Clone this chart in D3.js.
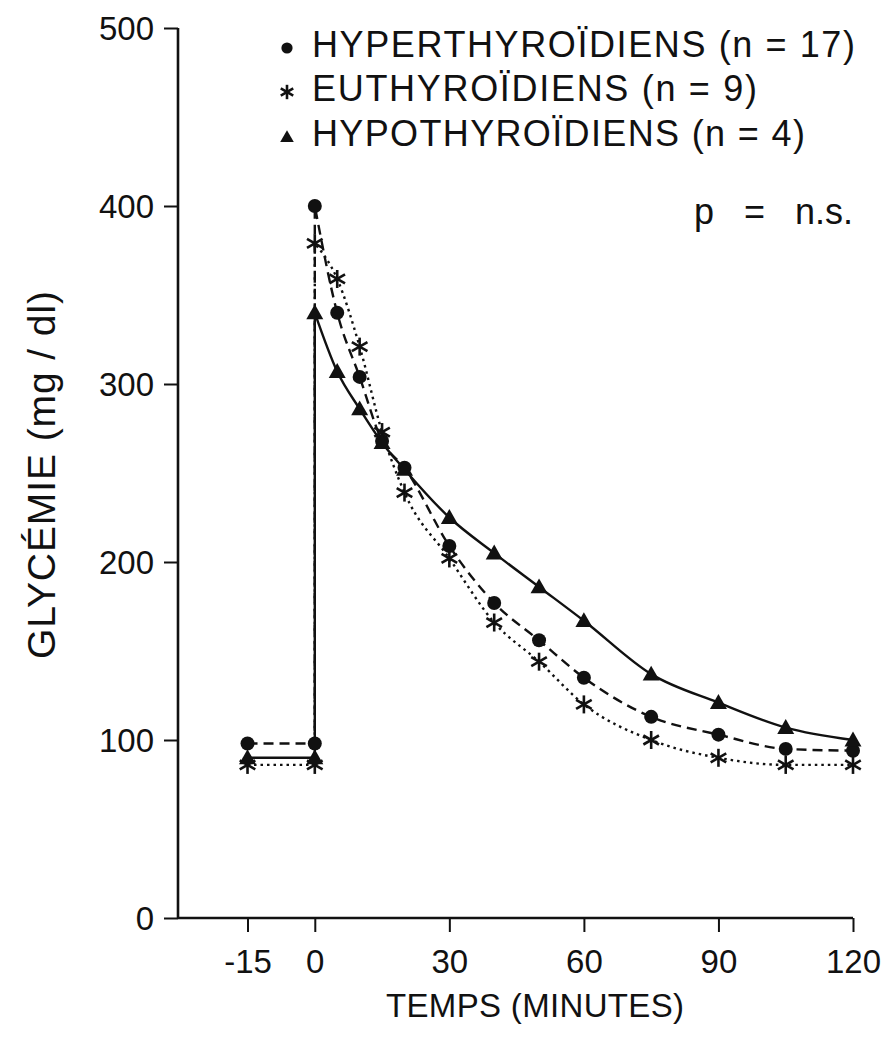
<!DOCTYPE html>
<html>
<head>
<meta charset="utf-8">
<script src="https://cdn.jsdelivr.net/npm/d3@7/dist/d3.min.js"></script>
<style>
  html, body { margin: 0; padding: 0; background: #fff; }
  svg { display: block; }
  text { font-family: "Liberation Sans", Arial, Helvetica, sans-serif; fill: #111; }
</style>
</head>
<body>
<svg id="chart" width="888" height="1053"></svg>
<script>
// ---- data ----
const times = [-15, 0, 0, 5, 10, 15, 20, 30, 40, 50, 60, 75, 90, 105, 120];
const hyperValues = [98, 98, 400, 340, 304, 268, 253, 209, 177, 156, 135, 113, 103, 95, 94];
const euValues    = [86, 86, 379, 359, 321, 273, 239, 202, 166, 144, 120, 100, 90, 86, 86];
const hypoValues  = [90, 90, 340, 307, 286, 267, 252, 225, 205, 186, 167, 137, 121, 107, 100];
const seriesNames = ["HYPERTHYROÏDIENS (n = 17)", "EUTHYROÏDIENS (n = 9)", "HYPOTHYROÏDIENS (n = 4)"];
const xTicks = [-15, 0, 30, 60, 90, 120];
const yTicks = [0, 100, 200, 300, 400, 500];
const xTitle = "TEMPS (MINUTES)";
const yTitle = "GLYCÉMIE (mg / dl)";
const pNote = "p = n.s.";

const svg = d3.select("#chart");
const x = d3.scaleLinear().domain([-30.5, 120]).range([178, 853]);
const y = d3.scaleLinear().domain([0, 500]).range([918, 28]);

const ink = "#111";

// axes
const yAxis = d3.axisLeft(y).tickValues(yTicks).tickSize(14).tickPadding(10).tickFormat(d => String(d));
const xAxis = d3.axisBottom(x).tickValues(xTicks).tickSize(14).tickPadding(18).tickFormat(d => String(d));

const gy = svg.append("g").attr("transform", `translate(${x.range()[0]},0)`).call(yAxis);
const gx = svg.append("g").attr("transform", `translate(0,${y(0)})`).call(xAxis);
[gx, gy].forEach(g => {
  g.select(".domain").attr("stroke", ink).attr("stroke-width", 2.6);
  g.selectAll(".tick line").attr("stroke", ink).attr("stroke-width", 2);
  g.selectAll(".tick text").attr("font-size", 33).attr("fill", ink)
    .attr("font-family", '"Liberation Sans", Arial, sans-serif');
});
gy.selectAll(".tick text").attr("dy", "0.36em");
// plain axis lines (no outer ticks)
gy.select(".domain").attr("d", `M0,${y(500)}V${y(0)}`);
gx.select(".domain").attr("d", `M${x.range()[0]},0H${x.range()[1]}`);

// axis titles
svg.append("text").attr("x", 535).attr("y", 1017).attr("text-anchor", "middle")
  .attr("font-size", 33).attr("textLength", 298).attr("lengthAdjust", "spacing").text(xTitle);
svg.append("text").attr("transform", `translate(55,475) rotate(-90)`).attr("text-anchor", "middle")
  .attr("font-size", 39).attr("textLength", 368).attr("lengthAdjust", "spacing").text(yTitle);

// lines: linear baseline + vertical jump, then smooth decay
function pathFor(vals) {
  const pts = times.map((t, i) => [x(t), y(vals[i])]);
  const lin = d3.line()(pts.slice(0, 3));
  const cur = d3.line().curve(d3.curveMonotoneX)(pts.slice(2));
  return lin + cur.replace(/^M[^LC]*/, "");
}

const series = [
  { vals: hyperValues, dash: "10,6", marker: "circle" },
  { vals: euValues, dash: "2.5,4", marker: "star" },
  { vals: hypoValues, dash: null, marker: "triangle" }
];

series.forEach(s => {
  svg.append("path").attr("d", pathFor(s.vals)).attr("fill", "none")
    .attr("stroke", ink).attr("stroke-width", 2.4)
    .attr("stroke-dasharray", s.dash);
});

function drawMarker(g, type, cx, cy, scale = 1) {
  if (type === "circle") {
    g.append("circle").attr("cx", cx).attr("cy", cy).attr("r", 7 * scale).attr("fill", ink);
  } else if (type === "triangle") {
    const s = 8.5 * scale;
    g.append("path").attr("d", `M${cx},${cy - s}L${cx + s},${cy + s * 0.75}L${cx - s},${cy + s * 0.75}Z`).attr("fill", ink);
  } else {
    const r = 9 * scale;
    const gg = g.append("g").attr("stroke", ink).attr("stroke-width", 2.6);
    [90, 30, -30].forEach(a => {
      const rad = a * Math.PI / 180;
      gg.append("line").attr("x1", cx - r * Math.cos(rad)).attr("y1", cy - r * Math.sin(rad))
        .attr("x2", cx + r * Math.cos(rad)).attr("y2", cy + r * Math.sin(rad));
    });
  }
}

const mg = svg.append("g");
series.forEach(s => {
  times.forEach((t, i) => drawMarker(mg, s.marker, x(t), y(s.vals[i])));
});

// legend
const legY = [57, 101, 146];
const legW = [543, 445, 493];
seriesNames.forEach((name, i) => {
  drawMarker(svg, series[i].marker, 287, legY[i] - 9, 0.8);
  svg.append("text").attr("x", 312).attr("y", legY[i]).attr("font-size", 36)
    .attr("textLength", legW[i]).attr("lengthAdjust", "spacing").text(name);
});
svg.append("text").attr("x", 853).attr("y", 224).attr("text-anchor", "end").attr("font-size", 36)
  .style("word-spacing", "20px").text(pNote);
</script>
</body>
</html>
